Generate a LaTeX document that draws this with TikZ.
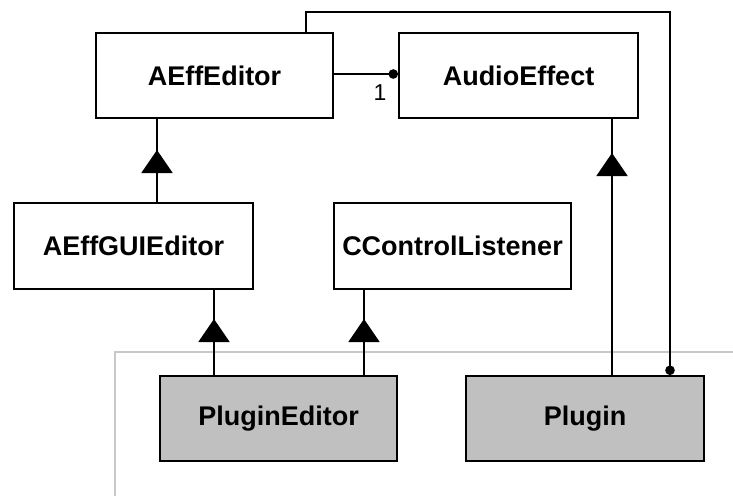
\documentclass[tikz,border=0pt]{standalone}
\usepackage{fontspec}
\setmainfont{Liberation Sans}
\usetikzlibrary{arrows.meta,decorations.markings}
\definecolor{classgray}{HTML}{C0C0C0}
\definecolor{framegray}{HTML}{C8C8C8}
\tikzset{
  classbox/.style={draw=black, line width=2pt, fill=white, inner sep=0pt,
    font=\fontsize{27}{31}\selectfont\bfseries},
  implbox/.style={classbox, fill=classgray},
  conn/.style={draw=black, line width=2pt},
  % generalization: filled triangle standing a little off the target box
  gen/.style={conn, postaction={decorate}, decoration={markings,
    mark=at position -#1 with {\arrow{Triangle[length=23pt 0 0,width=31pt 0 0]}}}},
  ballend/.style={conn, -{Circle[length=9.5pt 0 0,width=9.5pt 0 0]}},
  mult/.style={font=\fontsize{23}{27}\selectfont, inner sep=0pt},
}
\begin{document}
\begin{tikzpicture}[x=1pt, y=-1pt]
\useasboundingbox (0,0) rectangle (733,496);

% package frame
\draw[framegray, line width=1.5pt] (733,352) -- (115,352) -- (115,496);

% classes
\node[classbox, minimum width=237pt, minimum height=85pt] (aeffed) at (214.5,75.5) {AEffEditor};
\node[classbox, minimum width=239pt, minimum height=85pt] (audio) at (518.5,75.5) {AudioEffect};
\node[classbox, minimum width=239pt, minimum height=86pt] (guied) at (133.5,246) {AEffGUIEditor};
\node[classbox, minimum width=237pt, minimum height=86pt] (listener) at (452.5,246) {CControlListener};
\node[implbox, minimum width=237pt, minimum height=85pt] (plugined) at (278.5,418.5) {PluginEditor};
\node[implbox, minimum width=238pt, minimum height=85pt] (plugin) at (585,418.5) {Plugin};

% inheritance
\draw[gen=31pt] (guied.north -| 157,0) -- (aeffed.south -| 157,0);
\draw[gen=29pt] (plugined.north -| 214,0) -- (guied.south -| 214,0);
\draw[gen=29pt] (plugined.north -| 364,0) -- (listener.south -| 364,0);
\draw[gen=34pt] (plugin.north -| 612,0) -- (audio.south -| 612,0);

% associations
\draw[ballend] (aeffed.east |- 0,74) -- (audio.west |- 0,74);
\node[mult] (one) at (380,93) {1};
\coordinate (upl) at (306,12);
\coordinate (upr) at (670,12);
\draw[ballend] (aeffed.north -| upl) -- (upl) -- (upr) -- (plugin.north -| upr);
\end{tikzpicture}
\end{document}
